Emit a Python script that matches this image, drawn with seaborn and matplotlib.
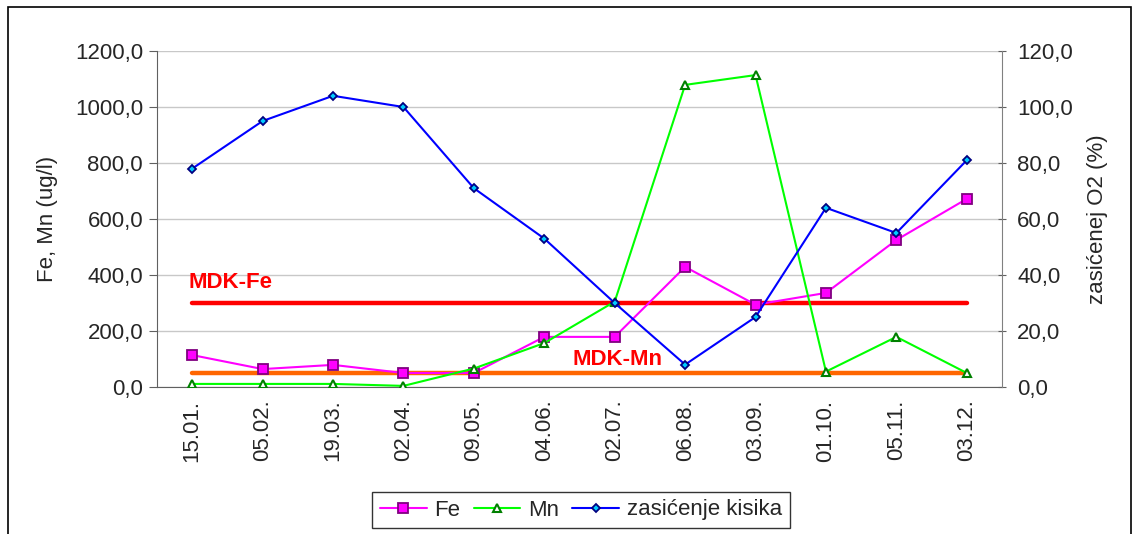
import matplotlib
matplotlib.use("Agg")
import matplotlib.pyplot as plt
import matplotlib.patches as mpatches
from matplotlib.lines import Line2D
from matplotlib.ticker import FuncFormatter
import seaborn as sns

# values
dates = ["15.01.", "05.02.", "19.03.", "02.04.", "09.05.", "04.06.",
         "02.07.", "06.08.", "03.09.", "01.10.", "05.11.", "03.12."]
fe = [114, 64, 79, 50, 50, 179, 179, 429, 294, 336, 525, 672]
mn = [11, 11, 11, 4, 66, 157, 305, 1079, 1114, 55, 179, 50]
kisik = [78, 95, 104, 100, 71, 53, 30, 8, 25, 64, 55, 81]
mdk_fe = 300
mdk_mn = 50

sns.set_style("white")
plt.rcParams["font.family"] = ["Liberation Sans", "DejaVu Sans"]
fs = 16

fig = plt.figure(figsize=(11.39, 5.34), dpi=100)
ax = fig.add_axes([157 / 1139, 1 - 387 / 534, (1002 - 157) / 1139, (387 - 51) / 534])
ax2 = ax.twinx()

fe_style = dict(color="#ff00ff", marker="s", markersize=6.5, markerfacecolor="#ff00ff",
                markeredgecolor="#800080", markeredgewidth=1.3)
mn_style = dict(color="#00ff00", marker="^", markersize=6, markerfacecolor="white",
                markeredgecolor="#008000", markeredgewidth=1.5)
ox_style = dict(color="#0000ff", marker="D", markersize=4.5, markerfacecolor="#00ccff",
                markeredgecolor="#000080", markeredgewidth=1.3)

# MDK lines
sns.lineplot(x=dates, y=[mdk_fe] * len(dates), ax=ax, color="#ff0000", lw=3.2, sort=False, zorder=2)
sns.lineplot(x=dates, y=[mdk_mn] * len(dates), ax=ax, color="#ff6600", lw=3.2, sort=False, zorder=2)

sns.lineplot(x=dates, y=fe, ax=ax, lw=1.5, sort=False, zorder=3, **fe_style)
sns.lineplot(x=dates, y=mn, ax=ax, lw=1.5, sort=False, zorder=3, **mn_style)
sns.lineplot(x=dates, y=kisik, ax=ax2, lw=1.5, sort=False, zorder=3, **ox_style)

ax.text(-0.05, mdk_fe + 35, "MDK-Fe", color="#ff0000", fontsize=fs, fontweight="bold", ha="left", va="bottom")
ax.text(5.4, mdk_mn + 12, "MDK-Mn", color="#ff0000", fontsize=fs, fontweight="bold", ha="left", va="bottom")

comma = FuncFormatter(lambda v, p: f"{v:.1f}".replace(".", ","))

ax.set_xlim(-0.5, len(dates) - 0.5)
ax.set_ylim(0, 1200)
ax2.set_ylim(0, 120)
ax.set_yticks(range(0, 1201, 200))
ax2.set_yticks(range(0, 121, 20))
ax.yaxis.set_major_formatter(comma)
ax2.yaxis.set_major_formatter(comma)
ax.set_xticks(range(len(dates)))
ax.set_xticklabels(dates, rotation=90)
ax.set_xticks([i - 0.5 for i in range(len(dates) + 1)], minor=True)
ax.tick_params(axis="x", which="major", length=0, pad=9, labelsize=fs)
ax.tick_params(axis="x", which="minor", length=6, color="#606060", direction="out")
ax.tick_params(axis="y", length=6, color="#606060", direction="out", pad=4, labelsize=fs)
ax2.tick_params(axis="y", length=6, color="#606060", direction="inout", pad=8, labelsize=fs)

ax.grid(axis="y", color="#c8c8c8", lw=1)
ax.set_axisbelow(True)
for s in ["top", "right"]:
    ax.spines[s].set_visible(False)
for s in ["top", "left", "bottom"]:
    ax2.spines[s].set_visible(False)
ax.spines["left"].set_color("#606060")
ax.spines["bottom"].set_color("#606060")
ax2.spines["right"].set_visible(True)
ax2.spines["right"].set_color("#808080")

ax.set_xlabel("")
ax.set_ylabel("Fe, Mn (ug/l)", fontsize=fs, labelpad=12)
ax2.set_ylabel("zasićenej O2 (%)", fontsize=fs, labelpad=10)

handles = [Line2D([], [], lw=1.5, **fe_style),
           Line2D([], [], lw=1.5, **mn_style),
           Line2D([], [], lw=1.5, **ox_style)]
leg = fig.legend(handles, ["Fe", "Mn", "zasićenje kisika"], loc="center",
                 bbox_to_anchor=(581 / 1139, 1 - 510 / 534), ncol=3, frameon=True,
                 fancybox=False, edgecolor="black", fontsize=fs, handlelength=2.1,
                 handletextpad=0.35, columnspacing=0.6, borderpad=0.35, borderaxespad=0)
leg.get_frame().set_linewidth(1)

# outer chart border
fig.patches.append(mpatches.Rectangle((8 / 1139, -0.05), (1131 - 8) / 1139, 1 - 7 / 534 + 0.05,
                                      transform=fig.transFigure, fill=False,
                                      edgecolor="black", lw=1.2, clip_on=False))

fig.savefig("out.png", dpi=100)
